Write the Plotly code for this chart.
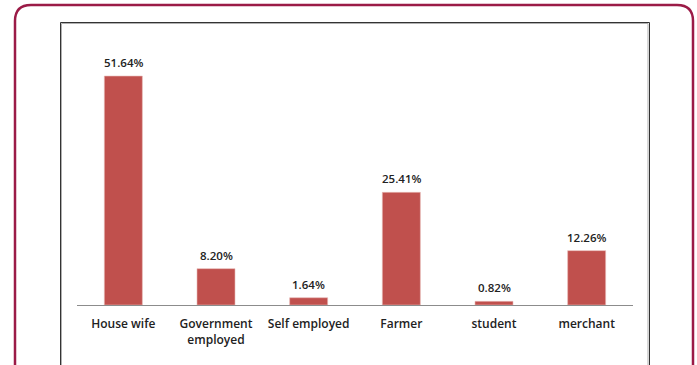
import plotly.graph_objects as go

categories = ["House wife", "Government<br>employed", "Self employed", "Farmer", "student", "merchant"]
values = [51.64, 8.20, 1.64, 25.41, 0.82, 12.26]
labels = ["51.64%", "8.20%", "1.64%", "25.41%", "0.82%", "12.26%"]

W, H = 697, 365
L, R, T, B = 77, 633, 39, 305  # plot area in pixels

def px(x):
    return (x - L) / (R - L)

def py(y):
    return (B - y) / (B - T)

fig = go.Figure()
fig.add_trace(go.Bar(
    x=categories, y=values,
    marker=dict(color="#C0504D", line=dict(color="#E8B8B6", width=0.6)),
    width=0.41,
    hoverinfo="skip",
))

annotations = [
    dict(x=c, y=v, xref="x", yref="y", text=t, showarrow=False,
         yanchor="bottom", yshift=4,
         font=dict(family="Open Sans", size=11.5, color="#222222", weight=600))
    for c, v, t in zip(categories, values, labels)
]

# outer rounded maroon border
r = 16
ol, ot, orr, ob = 15, 5, 693, 420
path = (f"M {px(ol)} {py(ob)} L {px(ol)} {py(ot + r)} "
        f"Q {px(ol)} {py(ot)} {px(ol + r)} {py(ot)} "
        f"L {px(orr - r)} {py(ot)} "
        f"Q {px(orr)} {py(ot)} {px(orr)} {py(ot + r)} "
        f"L {px(orr)} {py(ob)}")
shapes = [
    dict(type="path", xref="paper", yref="paper", path=path,
         line=dict(color="#9B1B47", width=2.5)),
    dict(type="rect", xref="paper", yref="paper",
         x0=px(61.5), x1=px(648), y0=py(23.5), y1=py(420),
         line=dict(color="#B0B0B0", width=1)),
    dict(type="rect", xref="paper", yref="paper",
         x0=px(60.5), x1=px(649.5), y0=py(22.5), y1=py(420),
         line=dict(color="#333333", width=1)),
]

fig.update_layout(
    width=W, height=H,
    margin=dict(l=L, r=W - R, t=T, b=H - B, pad=0),
    paper_bgcolor="white", plot_bgcolor="white",
    showlegend=False,
    shapes=shapes,
    annotations=annotations,
    font=dict(family="Open Sans", size=11, color="#222222"),
    xaxis=dict(showline=True, linecolor="#8C8C8C", linewidth=1, ticks="",
               ticklabelstandoff=8,
               tickfont=dict(family="Open Sans", size=12, color="#222222", weight=600),
               fixedrange=True),
    yaxis=dict(range=[0, 60], visible=False, showgrid=False, zeroline=False,
               fixedrange=True),
)

fig.write_html("out.html", config={"displayModeBar": False})
